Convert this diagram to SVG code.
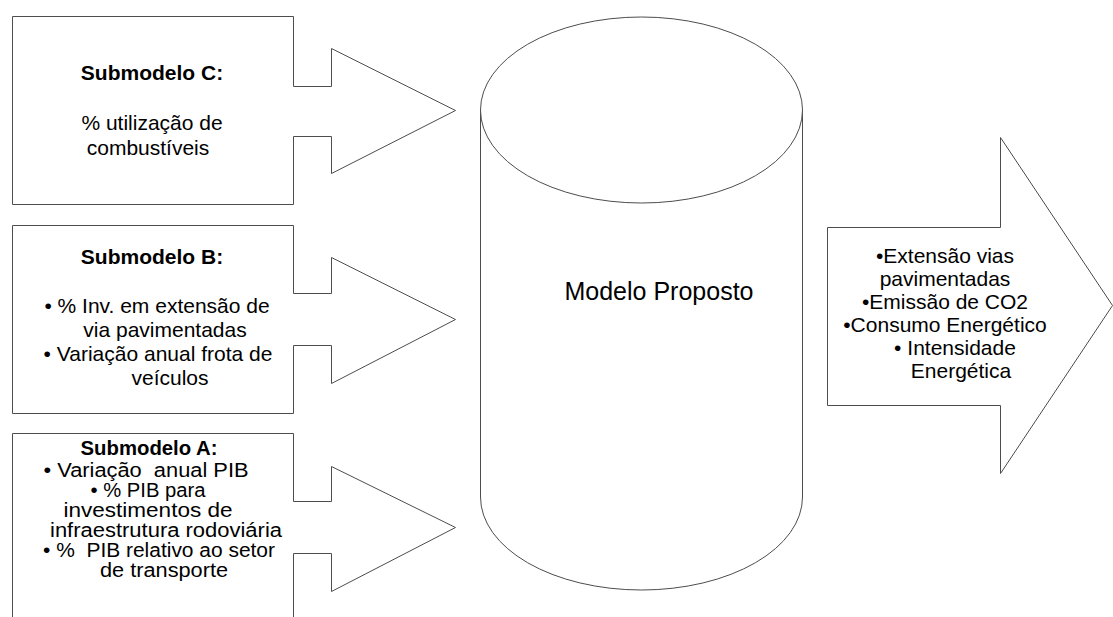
<svg xmlns="http://www.w3.org/2000/svg" width="1113" height="617" viewBox="0 0 1113 617">
  <style>
    .shape { fill: #ffffff; stroke: #4d4d4d; stroke-width: 1; }
    .txt { font-family: "Liberation Sans", Arial, sans-serif; font-size: 21px; fill: #000000; text-anchor: middle; }
    .tight { font-size: 19.5px; }
    .bold { font-weight: bold; }
    .big { font-size: 25px; }
  </style>
  <rect width="1113" height="617" fill="#ffffff"/>

  <!-- Submodelo C: box with right-pointing arrow -->
  <g id="submodelo-c">
    <path class="shape" d="M12.5,16.5 H293.5 V86.5 H331.5 V48.5 L455.5,110.5 L331.5,173.5 V136.5 H293.5 V204.5 H12.5 Z"/>
    <text class="txt bold" x="152" y="80">Submodelo C:</text>
    <text class="txt" x="152" y="130">% utilização de</text>
    <text class="txt" x="148" y="155">combustíveis</text>
  </g>

  <!-- Submodelo B -->
  <g id="submodelo-b">
    <path class="shape" d="M12.5,225.5 H293.5 V293.5 H331.5 V257.5 L455.5,319.5 L331.5,383.5 V345.5 H293.5 V413.5 H12.5 Z"/>
    <text class="txt bold" x="152" y="264">Submodelo B:</text>
    <text class="txt" x="157" y="313">• % Inv. em extensão de</text>
    <text class="txt" x="165" y="337">via pavimentadas</text>
    <text class="txt" x="158" y="361">• Variação anual frota de</text>
    <text class="txt" x="170" y="385">veículos</text>
  </g>

  <!-- Submodelo A (continues past the lower edge) -->
  <g id="submodelo-a">
    <path class="shape" d="M12.5,625 V433.5 H293.5 V501.5 H331.5 V466.5 L455.5,527.5 L331.5,591.5 V553.5 H293.5 V625"/>
    <text class="txt tight bold" x="149" y="455" textLength="137" lengthAdjust="spacingAndGlyphs">Submodelo A:</text>
    <text class="txt tight" x="146" y="477" textLength="205" lengthAdjust="spacingAndGlyphs">• Variação&#160; anual PIB</text>
    <text class="txt tight" x="148" y="497" textLength="115" lengthAdjust="spacingAndGlyphs">• % PIB para</text>
    <text class="txt tight" x="148" y="517" textLength="169" lengthAdjust="spacingAndGlyphs">investimentos de</text>
    <text class="txt tight" x="166" y="537" textLength="232" lengthAdjust="spacingAndGlyphs">infraestrutura rodoviária</text>
    <text class="txt tight" x="159" y="557" textLength="232" lengthAdjust="spacingAndGlyphs">• %&#160; PIB relativo ao setor</text>
    <text class="txt tight" x="164" y="577" textLength="128" lengthAdjust="spacingAndGlyphs">de transporte</text>
  </g>

  <!-- Central cylinder -->
  <g id="modelo-proposto">
    <path class="shape" d="M480.5,110 V497 A161,93 0 0 0 802.5,497 V110"/>
    <ellipse class="shape" cx="641.5" cy="110" rx="161" ry="93"/>
    <text class="txt big" x="659" y="300">Modelo Proposto</text>
  </g>

  <!-- Output arrow -->
  <g id="saidas">
    <path class="shape" d="M827.5,227.5 H1000.5 V137.5 L1112.5,305.5 L1000.5,473.5 V405.5 H827.5 Z"/>
    <text class="txt" x="945" y="263">•Extensão vias</text>
    <text class="txt" x="945" y="286">pavimentadas</text>
    <text class="txt" x="945" y="309">•Emissão de CO2</text>
    <text class="txt" x="945" y="332">•Consumo Energético</text>
    <text class="txt" x="955" y="355">• Intensidade</text>
    <text class="txt" x="961" y="378">Energética</text>
  </g>
</svg>
